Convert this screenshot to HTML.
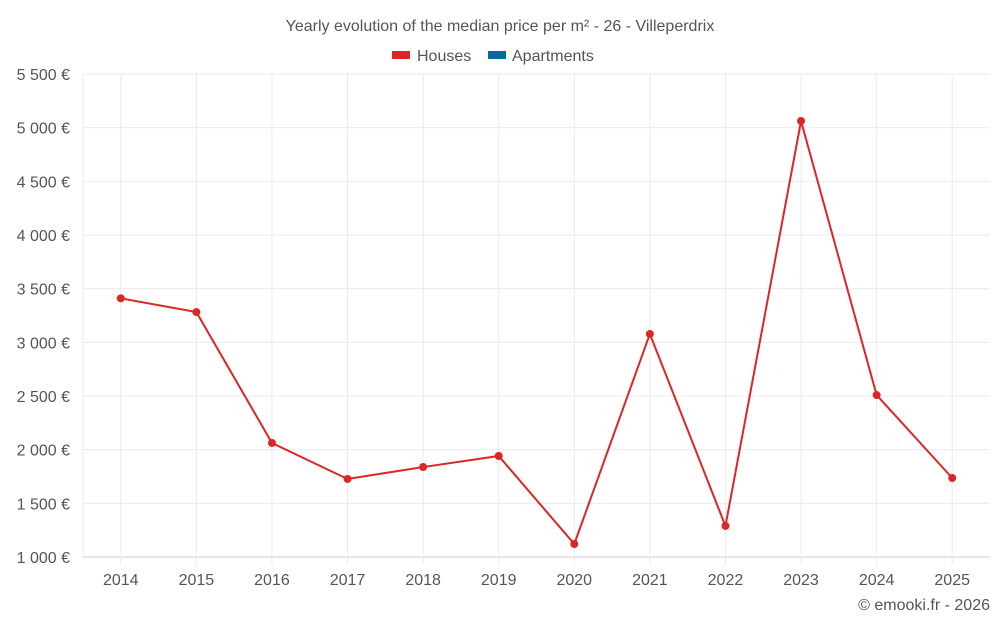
<!DOCTYPE html>
<html><head><meta charset="utf-8"><style>
html,body{margin:0;padding:0;background:#fff;}
svg{display:block;font-family:"Liberation Sans",sans-serif;}
</style></head><body>
<svg id="chart" width="1000" height="625">
<text x="500" y="31" text-anchor="middle" font-size="16" fill="#555">Yearly evolution of the median price per m² - 26 - Villeperdrix</text>
<g>
<g><rect x="392" y="51" width="18" height="8" fill="#dc2626"/><text x="417" y="61" font-size="16" fill="#555">Houses</text></g>
<g><rect x="488" y="51" width="18" height="8" fill="#0369a1"/><text x="512" y="61" font-size="16" fill="#555">Apartments</text></g>
</g>
<g id="grid"></g><g id="axes"></g><g id="series"></g>
<text x="990" y="610" text-anchor="end" font-size="16" fill="#555">© emooki.fr - 2026</text>
</svg>
<script>
const years=["2014","2015","2016","2017","2018","2019","2020","2021","2022","2023","2024","2025"];
const houses=[3410,3282,2062,1727,1838,1941,1121,3078,1289,5062,2509,1736];
const yTicks=[1000,1500,2000,2500,3000,3500,4000,4500,5000,5500];
const yTickLabels=["1 000 €","1 500 €","2 000 €","2 500 €","3 000 €","3 500 €","4 000 €","4 500 €","5 000 €","5 500 €"];
const L=83,R=990,T=74,B=557,ymin=1000,ymax=5500;
const bw=(R-L)/years.length;
const x=i=>L+(i+0.5)*bw;
const y=v=>B-(v-ymin)/(ymax-ymin)*(B-T);
const NS="http://www.w3.org/2000/svg";
function mk(tag,attrs,parent){const e=document.createElementNS(NS,tag);for(const k in attrs)e.setAttribute(k,attrs[k]);document.getElementById(parent).appendChild(e);return e;}
const la=mk("line",{x1:L,x2:L,y1:T,y2:B,stroke:"#ebebeb","stroke-width":1},"grid");


yTicks.forEach((v,i)=>{
 const g=mk("line",{x1:L,x2:R,y1:y(v),y2:y(v),stroke:i===0?"#ccc":"#ebebeb","stroke-width":1},"grid");
 
 
 const t=mk("text",{x:70,y:y(v)+6,"text-anchor":"end","font-size":16,fill:"#555"},"axes");
 t.textContent=yTickLabels[i];
 
 
});
years.forEach((yr,i)=>{
 const g=mk("line",{x1:x(i),x2:x(i),y1:T,y2:B+8,stroke:"#ebebeb","stroke-width":1},"grid");
 
 
 const t=mk("text",{x:x(i),y:585,"text-anchor":"middle","font-size":16,fill:"#555"},"axes");
 t.textContent=yr;
 
 
});
const ln=mk("polyline",{points:houses.map((v,i)=>x(i)+","+y(v)).join(" "),fill:"none",stroke:"#dc2626","stroke-width":2},"series");


houses.forEach((v,i)=>{
 const c=mk("circle",{cx:x(i),cy:y(v),r:4,fill:"#dc2626"},"series");
 
 
});
</script>
</body></html>
